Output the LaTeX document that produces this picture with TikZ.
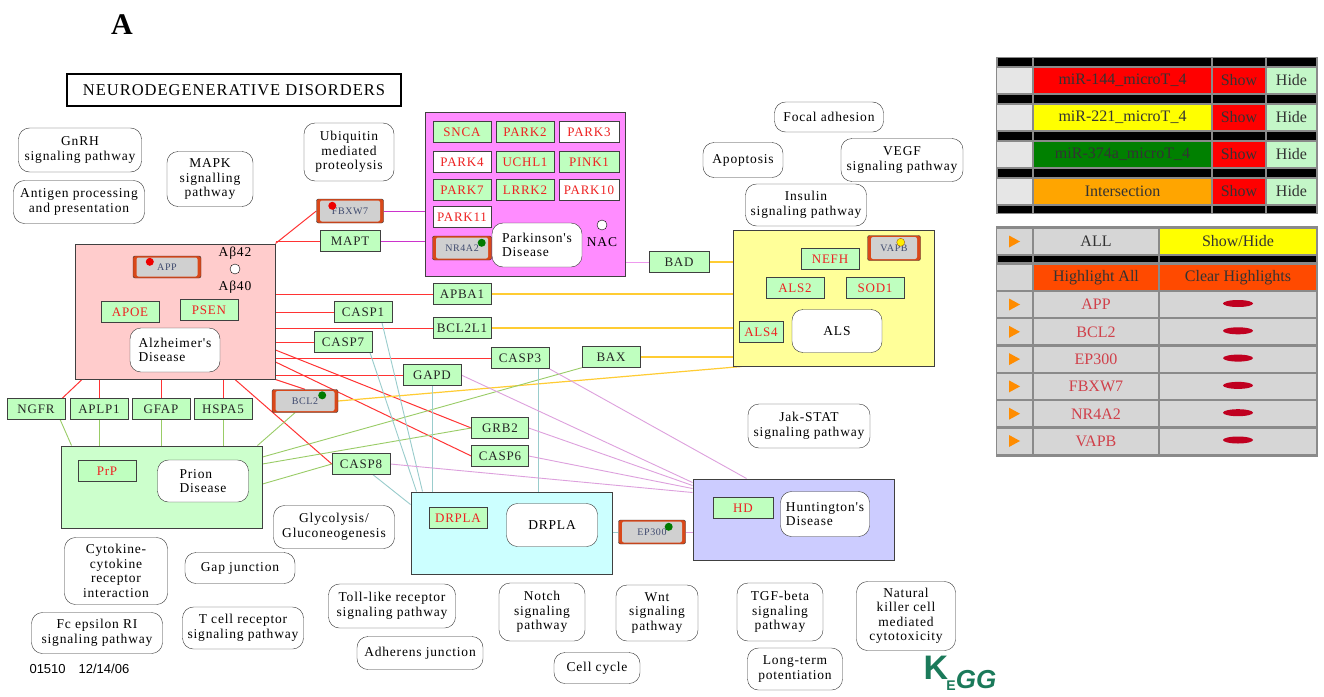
\documentclass[tikz,border=0pt]{standalone}
\usepackage{fontspec}
\setmainfont{Liberation Serif}
\setsansfont{Liberation Sans}
\newfontfamily\keggserif[LetterSpace=6]{Liberation Serif}
\usetikzlibrary{backgrounds}

\definecolor{genegreen}{HTML}{BFFFBF}
\definecolor{genered}{HTML}{EE2222}
\definecolor{alzpink}{HTML}{FFCCCC}
\definecolor{pdpink}{HTML}{FF8CFF}
\definecolor{alsyellow}{HTML}{FFFF99}
\definecolor{prgreen}{HTML}{CCFFCC}
\definecolor{drcyan}{HTML}{CCFFFF}
\definecolor{hdblue}{HTML}{CCCCFF}
\definecolor{mirorange}{HTML}{D9481A}
\definecolor{mirgrey}{HTML}{D0D0D0}
\definecolor{mirtext}{HTML}{3F4A6E}
\definecolor{mirred}{HTML}{EE0000}
\definecolor{mirgreen}{HTML}{007A00}
\definecolor{miryellow}{HTML}{FFEE00}
\definecolor{linered}{HTML}{FF3333}
\definecolor{linemag}{HTML}{CC33CC}
\definecolor{linepink}{HTML}{EE99EE}
\definecolor{lineyellow}{HTML}{FFCC33}
\definecolor{linegreen}{HTML}{99CC66}
\definecolor{lineteal}{HTML}{99CCCC}
\definecolor{linelav}{HTML}{DDA0DD}
\definecolor{tabframe}{HTML}{8A8A8A}
\definecolor{tablight}{HTML}{E6E6E6}
\definecolor{tabgrey}{HTML}{D6D6D6}
\definecolor{tabred}{HTML}{FF0000}
\definecolor{tabyellow}{HTML}{FFFF00}
\definecolor{tabdkgreen}{HTML}{008000}
\definecolor{taborange}{HTML}{FFA500}
\definecolor{tabhide}{HTML}{C4F7C8}
\definecolor{tabhigh}{HTML}{FF4A00}
\definecolor{tabtri}{HTML}{FF8C00}
\definecolor{tabgene}{HTML}{D0404A}
\definecolor{tabpill}{HTML}{C00020}
\definecolor{kegggreen}{HTML}{1B7A5A}

\newcommand\genefont{\keggserif\fontsize{13}{15}\selectfont}
\newcommand\pwfont{\keggserif\fontsize{13.5}{14.5}\selectfont}
\newcommand\mirfont{\keggserif\fontsize{10}{12}\selectfont}
\newcommand\tabfont{\fontsize{16}{17}\selectfont}

\tikzset{
    gene/.style={draw=black!75, fill=genegreen, minimum width=58pt, minimum height=21pt,
        inner sep=0pt, font=\genefont, text=black!85},
    redgene/.style={gene, text=genered},
    whitegene/.style={redgene, fill=white},
    mirbox/.style={draw=black!80, fill=mirorange, rounded corners=2pt, minimum width=66pt,
        minimum height=23pt, inner sep=0pt, font=\mirfont, text=mirtext,
        path picture={\fill[mirgrey] ([xshift=3.5pt,yshift=-1.5pt]path picture bounding box.north west)
            rectangle ([xshift=-3.5pt,yshift=1.5pt]path picture bounding box.south east);}},
    pwbox/.style={draw=black!80, fill=white, rounded corners=11pt, align=center,
        inner sep=0pt, font=\pwfont},
    disbox/.style={draw=black!75, line width=1pt, inner sep=0pt},
    alzline/.style={draw=linered, line width=1pt},
    pdline/.style={draw=linemag, line width=0.9pt},
    alsline/.style={draw=lineyellow, line width=1.2pt},
    prline/.style={draw=linegreen, line width=0.9pt},
    drline/.style={draw=lineteal, line width=0.9pt},
    hdline/.style={draw=linelav, line width=0.9pt},
    tabcell/.style={minimum height=25pt, inner sep=0pt, font=\tabfont, text=black!80}
}

\begin{document}
\begin{tikzpicture}[x=1pt, y=-1pt]
    \useasboundingbox (0,0) rectangle (1324,696);
    % 1. title
    \node[font=\fontsize{30}{32}\selectfont\bfseries] (panel) at (122,25) {A};
    \node[draw, line width=1.6pt, minimum width=334pt, minimum height=32pt, inner sep=0pt,
        font=\keggserif\fontsize{16.5}{18}\selectfont] (title) at (234,90) {NEURODEGENERATIVE DISORDERS};

    % 2. disease boxes
    \node[disbox, fill=alzpink, minimum width=200pt, minimum height=135pt] (alz) at (175,311.5) {};
    \node[disbox, fill=pdpink, minimum width=200pt, minimum height=164pt] (pd) at (525,194) {};
    \node[disbox, fill=alsyellow, minimum width=201pt, minimum height=136pt] (als) at (833.5,298) {};
    \node[disbox, fill=prgreen, minimum width=201pt, minimum height=82pt] (prion) at (161.5,487) {};
    \node[disbox, fill=drcyan, minimum width=201pt, minimum height=82pt] (drpla) at (511.5,533) {};
    \node[disbox, fill=hdblue, minimum width=201pt, minimum height=81pt] (hd) at (793.5,519.5) {};
    \node[pwbox, align=left, minimum width=90pt, minimum height=44pt] (alzlbl) at (175,350) {Alzheimer's\\Disease};
    \node[pwbox, align=left, minimum width=90pt, minimum height=44pt] (pdlbl) at (537,245) {Parkinson's\\Disease};
    \node[pwbox, minimum width=90pt, minimum height=43pt] (alslbl) at (837,331) {ALS};
    \node[pwbox, align=left, minimum width=91pt, minimum height=42pt] (prionlbl) at (203,481) {Prion\\Disease};
    \node[pwbox, minimum width=91pt, minimum height=43pt] (drplalbl) at (552,525) {DRPLA};
    \node[pwbox, align=left, minimum width=89pt, minimum height=45pt] (hdlbl) at (825,514) {Huntington's\\Disease};

    % 3. genes
    \node[mirbox, minimum width=68pt, minimum height=22pt] (app) at (167,267) {APP};
    \node[font=\pwfont] (ab42) at (235,253) {Aβ42};
    \node[draw, circle, fill=white, minimum size=10pt, inner sep=0pt] (abdot) at (235,269) {};
    \node[font=\pwfont] (ab40) at (235,287) {Aβ40};
    \node[redgene] (apoe) at (130,312) {APOE};
    \node[redgene] (psen) at (209,310) {PSEN};
    \node[mirbox, minimum width=67pt, minimum height=24pt] (fbxw7) at (350,211) {FBXW7};
    \node[gene, minimum width=60pt] (mapt) at (350,241) {MAPT};
    \node[redgene] (snca) at (462,132) {SNCA};
    \node[redgene] (park2) at (525,132) {PARK2};
    \node[whitegene, minimum width=60pt] (park3) at (589,132) {PARK3};
    \node[whitegene] (park4) at (462,162) {PARK4};
    \node[redgene] (uchl1) at (525,162) {UCHL1};
    \node[redgene, minimum width=60pt] (pink1) at (589,162) {PINK1};
    \node[redgene] (park7) at (462,190) {PARK7};
    \node[redgene] (lrrk2) at (525,190) {LRRK2};
    \node[whitegene, minimum width=60pt] (park10) at (589,190) {PARK10};
    \node[whitegene] (park11) at (462,217) {PARK11};
    \node[mirbox, minimum width=59pt, minimum height=24pt] (nr4a2) at (462,248) {NR4A2};
    \node[draw, circle, fill=white, minimum size=10pt, inner sep=0pt] (nacdot) at (602,225) {};
    \node[font=\pwfont] (nac) at (602,242) {NAC};
    \node[gene, minimum width=60pt] (bad) at (679,262) {BAD};
    \node[gene] (apba1) at (462,294) {APBA1};
    \node[gene] (casp1) at (363,312) {CASP1};
    \node[gene] (bcl2l1) at (462,328) {BCL2L1};
    \node[gene] (casp7) at (343,342) {CASP7};
    \node[gene] (casp3) at (520,358) {CASP3};
    \node[gene] (bax) at (611,357) {BAX};
    \node[gene] (gapd) at (432,375) {GAPD};
    \node[mirbox] (bcl2) at (305,401) {BCL2};
    \node[gene, minimum width=57pt] (grb2) at (500,428) {GRB2};
    \node[gene, minimum width=57pt] (casp6) at (500,456) {CASP6};
    \node[gene] (casp8) at (361,464) {CASP8};
    \node[gene] (ngfr) at (36,409) {NGFR};
    \node[gene] (aplp1) at (99,409) {APLP1};
    \node[gene] (gfap) at (161,409) {GFAP};
    \node[gene] (hspa5) at (223,409) {HSPA5};
    \node[redgene] (prp) at (107,471) {PrP};
    \node[redgene] (drplagene) at (458,518) {DRPLA};
    \node[redgene, minimum width=60pt] (hdgene) at (743,508) {HD};
    \node[mirbox, minimum width=67pt, minimum height=24pt] (ep300) at (652,532) {EP300};
    \node[mirbox, minimum width=53pt, minimum height=25pt] (vapb) at (894,248) {VAPB};
    \node[redgene] (nefh) at (830,259) {NEFH};
    \node[redgene] (als2) at (795,288) {ALS2};
    \node[redgene] (sod1) at (875,288) {SOD1};
    \node[redgene, minimum width=44pt] (als4) at (761,332) {ALS4};
    % dots on the target genes
    \fill[mirred] ([shift={(17,6)}]app.north west) circle (4pt);
    \fill[mirred] ([shift={(16,7)}]fbxw7.north west) circle (4pt);
    \fill[mirgreen] ([shift={(-10,7)}]nr4a2.north east) circle (4pt);
    \fill[mirgreen] ([shift={(-16,6)}]bcl2.north east) circle (4pt);
    \fill[mirgreen] ([shift={(-17,7)}]ep300.north east) circle (4pt);
    \fill[miryellow, draw=orange!60!black, line width=0.3pt] ([shift={(-20,7)}]vapb.north east) circle (4pt);

    % 4. pathways
    \node[pwbox, minimum width=123pt, minimum height=44pt] (gnrh) at (80,150) {GnRH\\signaling pathway};
    \node[pwbox, minimum width=131pt, minimum height=43pt] (antigen) at (79,202) {Antigen processing\\and presentation};
    \node[pwbox, minimum width=86pt, minimum height=55pt] (mapk) at (210,179) {MAPK\\signalling\\pathway};
    \node[pwbox, minimum width=90pt, minimum height=58pt] (ubiq) at (349,152) {Ubiquitin\\mediated\\proteolysis};
    \node[pwbox, minimum width=109pt, minimum height=30pt] (focal) at (829,117) {Focal adhesion};
    \node[pwbox, minimum width=80pt, minimum height=35pt] (apopt) at (743,160) {Apoptosis};
    \node[pwbox, minimum width=122pt, minimum height=43pt] (vegf) at (902,160) {VEGF\\signaling pathway};
    \node[pwbox, minimum width=121pt, minimum height=42pt] (insulin) at (806,205) {Insulin\\signaling pathway};
    \node[pwbox, minimum width=122pt, minimum height=44pt] (jakstat) at (809,426) {Jak-STAT\\signaling pathway};
    \node[pwbox, minimum width=121pt, minimum height=43pt] (glyco) at (334,527) {Glycolysis/\\Gluconeogenesis};
    \node[pwbox, minimum width=103pt, minimum height=67pt] (cytokine) at (116,571) {Cytokine-\\cytokine\\receptor\\interaction};
    \node[pwbox, minimum width=110pt, minimum height=31pt] (gapjn) at (240,568) {Gap junction};
    \node[pwbox, minimum width=131pt, minimum height=41pt] (fceps) at (97,633) {Fc epsilon RI\\signaling pathway};
    \node[pwbox, minimum width=121pt, minimum height=42pt] (tcell) at (243,628) {T cell receptor\\signaling pathway};
    \node[pwbox, minimum width=127pt, minimum height=44pt] (toll) at (392,606) {Toll-like receptor\\signaling pathway};
    \node[pwbox, minimum width=126pt, minimum height=33pt] (adherens) at (420,653) {Adherens junction};
    \node[pwbox, minimum width=86pt, minimum height=58pt] (notch) at (542,612) {Notch\\signaling\\pathway};
    \node[pwbox, minimum width=82pt, minimum height=56pt] (wnt) at (657,613) {Wnt\\signaling\\pathway};
    \node[pwbox, minimum width=86pt, minimum height=58pt] (tgfb) at (780,612) {TGF-beta\\signaling\\pathway};
    \node[pwbox, minimum width=99pt, minimum height=69pt] (nkcell) at (906,616) {Natural\\killer cell\\mediated\\cytotoxicity};
    \node[pwbox, minimum width=86pt, minimum height=31pt] (cellcyc) at (597,668) {Cell cycle};
    \node[pwbox, minimum width=95pt, minimum height=42pt] (ltp) at (795,669) {Long-term\\potentiation};

    % 5. relations, kept under the boxes
    \begin{scope}[on background layer]
        \fill[white] (0,0) rectangle (1324,696);
        % Alzheimer
        \draw[alzline] (alz.north east) -- (fbxw7.west);
        \draw[alzline] (alz.east |- mapt) -- (mapt.west);
        \draw[alzline] (alz.east |- apba1) -- (apba1.west);
        \draw[alzline] (alz.east |- casp1) -- (casp1.west);
        \draw[alzline] (alz.east |- bcl2l1) -- (bcl2l1.west);
        \draw[alzline] (alz.east |- casp7) -- (casp7.west);
        \draw[alzline] (alz.east |- casp3) -- (casp3.west);
        \draw[alzline] (alz.east |- gapd) -- (gapd.west);
        \draw[alzline] ([yshift=-38.5pt]alz.east) -- (grb2.west);
        \draw[alzline] ([yshift=-50.5pt]alz.east) -- (casp6.west);
        \draw[alzline] (alz.south east) -- (bcl2.north);
        \draw[alzline] ([xshift=60pt]alz.south) -- (casp8.west);
        \draw[alzline] ([xshift=-93pt]alz.south) -- ([xshift=-3pt]ngfr.north east);
        \draw[alzline] (aplp1.north) -- (aplp1.north |- alz.south);
        \draw[alzline] (gfap.north) -- (gfap.north |- alz.south);
        \draw[alzline] (hspa5.north) -- (hspa5.north |- alz.south);
        % Parkinson
        \draw[pdline] (fbxw7.east) -- (pd.west |- fbxw7);
        \draw[pdline] (mapt.east) -- (pd.west |- mapt);
        \draw[draw=linepink, line width=0.9pt] (pd.east |- bad) -- (bad.west);
        % ALS
        \draw[alsline] (bad.east) -- (als.west |- bad);
        \draw[alsline] (apba1.east) -- (als.west |- apba1);
        \draw[alsline] (bcl2l1.east) -- (als.west |- bcl2l1);
        \draw[alsline] (bax.east) -- (als.west |- bax);
        \draw[alsline] (bcl2.east) -- ([xshift=9pt]als.south west);
        % Prion
        \draw[prline] ([xshift=-5pt]ngfr.south east) -- ([xshift=11pt]prion.north west);
        \draw[prline] (aplp1.south) -- (aplp1.south |- prion.north);
        \draw[prline] (gfap.south) -- (gfap.south |- prion.north);
        \draw[prline] (hspa5.south) -- (hspa5.south |- prion.north);
        \draw[prline] ([xshift=-10pt]bcl2.south) -- ([xshift=-5pt]prion.north east);
        \draw[prline] ([yshift=30pt]prion.east) -- (bax.south west);
        \draw[prline] ([yshift=23pt]prion.east) -- (grb2.west);
        \draw[prline] ([yshift=3pt]prion.east) -- (casp8.west);
        % DRPLA
        \coordinate (c3foot) at ([xshift=18pt]casp3.south);
        \draw[drline] ([xshift=19pt]casp1.south) -- ([xshift=12pt]drpla.north west);
        \draw[drline] ([xshift=27pt]casp7.south) -- ([xshift=6pt]drpla.north west);
        \draw[drline] (gapd.south) -- (gapd.south |- drpla.north);
        \draw[drline] (c3foot) -- (c3foot |- drpla.north);
        \draw[drline] ([xshift=12pt]casp8.south) -- ([yshift=-13pt]drpla.north west);
        \draw[drline] (drpla.east |- ep300) -- (ep300.west);
        % Huntington
        \draw[hdline] (casp3.south east) -- ([xshift=-47pt]hd.north);
        \draw[hdline] (gapd.east) -- ([yshift=-4pt]hd.north west);
        \draw[hdline] (grb2.east) -- ([yshift=-7pt]hd.north west);
        \draw[hdline] (casp6.east) -- ([yshift=-10pt]hd.north west);
        \draw[hdline] (casp8.east) -- ([yshift=-14pt]hd.north west);
        \draw[hdline] (ep300.east) -- (hd.west |- ep300);
    \end{scope}

    % 6. miRNA table
    \fill[tabframe] (996,57) rectangle (1318,214);
    \foreach \lbl/\clr [count=\i from 0] in {miR-144\_microT\_4/tabred, miR-221\_microT\_4/tabyellow,
            miR-374a\_microT\_4/tabdkgreen, Intersection/taborange} {
        \foreach \xa/\xb in {998/1032, 1034/1211, 1213/1265, 1267/1316}
            \fill[black] (\xa,{58+37*\i}) rectangle (\xb,{66+37*\i});
        \node[tabcell, fill=tablight, minimum width=35pt] (sel\i) at (1014.5,{80.5+37*\i}) {};
        \node[tabcell, fill=\clr, minimum width=177pt] (mir\i) at (1122.5,{80.5+37*\i}) {\lbl};
        \node[tabcell, fill=tabred, minimum width=52pt] (show\i) at (1239,{80.5+37*\i}) {Show};
        \node[tabcell, fill=tabhide, minimum width=49pt] (hide\i) at (1291.5,{80.5+37*\i}) {Hide};
    }
    \foreach \xa/\xb in {998/1032, 1034/1211, 1213/1265, 1267/1316}
        \fill[black] (\xa,206) rectangle (\xb,213);

    % 7. gene table
    \fill[tabframe] (996,226) rectangle (1318,457);
    \node[tabcell, fill=tabgrey, minimum width=35pt] (allsel) at (1014.5,241.5) {};
    \node[tabcell, fill=tabgrey, minimum width=124pt] (all) at (1096,241.5) {ALL};
    \node[tabcell, fill=tabyellow, minimum width=156pt] (showhide) at (1238,241.5) {Show/Hide};
    \fill[tabtri] (1009,235.5) -- (1009,247.5) -- (1020,241.5) -- cycle;
    \foreach \xa/\xb in {998/1032, 1034/1158, 1160/1316}
        \fill[black] (\xa,256) rectangle (\xb,262);
    \node[tabcell, fill=tabgrey, minimum width=35pt] (hlsel) at (1014.5,277.5) {};
    \node[tabcell, fill=tabhigh, minimum width=124pt] (hlall) at (1096,277.5) {Highlight All};
    \node[tabcell, fill=tabhigh, minimum width=156pt] (hlclear) at (1238,277.5) {Clear Highlights};
    \foreach \g [count=\k from 0] in {APP, BCL2, EP300, FBXW7, NR4A2, VAPB} {
        \node[tabcell, fill=tabgrey, minimum width=35pt] (gsel\k) at (1014.5,{304.5+27.3*\k}) {};
        \node[tabcell, fill=tabgrey, minimum width=124pt, text=tabgene] (gname\k) at (1096,{304.5+27.3*\k}) {\g};
        \node[tabcell, fill=tabgrey, minimum width=156pt] (gmark\k) at (1238,{304.5+27.3*\k}) {};
        \fill[tabtri] (1009,{298.5+27.3*\k}) -- (1009,{310.5+27.3*\k}) -- (1020,{304.5+27.3*\k}) -- cycle;
        \fill[tabpill] (1238,{303.5+27.3*\k}) ellipse (15pt and 3.5pt);
    }

    % 8. footer
    \node[anchor=west, font=\sffamily\fontsize{13}{13}\selectfont] (mapid) at (26,669) {01510\quad 12/14/06};
    \node[font=\sffamily\bfseries\fontsize{34}{34}\selectfont, text=kegggreen] (keggk) at (936,668) {K};
    \node[font=\sffamily\bfseries\fontsize{14}{14}\selectfont, text=kegggreen] (kegge) at (951,686) {E};
    \node[font=\sffamily\bfseries\itshape\fontsize{26}{26}\selectfont, text=kegggreen] (kegggg) at (976,680) {GG};
\end{tikzpicture}
\end{document}
